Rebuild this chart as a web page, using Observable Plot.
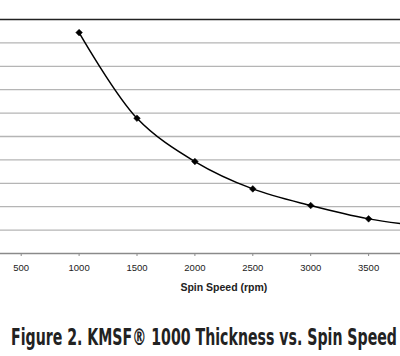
<!DOCTYPE html>
<html>
<head>
<meta charset="utf-8">
<script src="https://cdn.jsdelivr.net/npm/d3@7"></script>
<script src="https://cdn.jsdelivr.net/npm/@observablehq/plot@0.6"></script>
<style>
  body { margin: 0; background: #fff; width: 400px; overflow: hidden; }
  #chart svg { display: block; }
  #title { font-family: "DejaVu Sans Condensed", "DejaVu Sans", sans-serif; font-stretch: condensed; font-weight: bold; font-size: 22.5px; color: #222; white-space: nowrap; margin: 0; padding: 0; line-height: 25px; position: absolute; left: 11px; top: 325px; transform-origin: 0 50%; display: inline-block; }
</style>
</head>
<body>
<div id="chart"></div>
<div id="title">Figure 2. KMSF® 1000 Thickness vs. Spin Speed</div>
<script>
const speeds = [1000, 1500, 2000, 2500, 3000, 3500, 4000];
const thickness = [9.44, 5.78, 3.93, 2.76, 2.05, 1.48, 1.15];
const xTicks = [500, 1000, 1500, 2000, 2500, 3000, 3500];
const minorGrid = [1, 2, 3, 4, 5, 6, 7, 8, 9];
const xLabel = "Spin Speed (rpm)";

const data = speeds.map((s, i) => ({speed: s, thickness: thickness[i]}));

const plot = Plot.plot({
  width: 400,
  height: 300,
  marginTop: 19,
  marginBottom: 47,
  marginLeft: 0,
  marginRight: 0,
  style: {fontFamily: "'Liberation Sans', Arial, sans-serif", fontSize: "9.5px", color: "#222", background: "#fff"},
  x: {domain: [0, 4500], range: [-37.2, 483.9]},
  y: {domain: [0, 10], range: [253, 19], axis: null},
  marks: [
    Plot.ruleY(minorGrid, {stroke: "#b5b5b5", strokeWidth: 1.3}),
    Plot.ruleY([10], {stroke: "#222", strokeWidth: 1.5}),
    Plot.ruleY([0], {stroke: "#8a8a8a", strokeWidth: 1.3}),
    Plot.axisX({ticks: xTicks, tickSize: 3, tickPadding: 8, fontSize: 9.5, stroke: "#8a8a8a", fill: "#222", label: null, tickFormat: d => String(d)}),
    Plot.line(data, {x: "speed", y: "thickness", curve: "catmull-rom", stroke: "#000", strokeWidth: 1.5}),
    Plot.dot(data, {x: "speed", y: "thickness", symbol: "diamond2", r: 3, fill: "#000", stroke: "#000", strokeWidth: 0.5}),
    Plot.text([xLabel], {x: () => 2250, frameAnchor: "bottom", dy: 37, text: d => d, fontWeight: "bold", fontSize: 10.5, fill: "#222"})
  ]
});
document.getElementById("chart").appendChild(plot);
const t = document.getElementById("title");
const w = t.getBoundingClientRect().width;
const target = 386;
if (w > target) t.style.transform = `scaleX(${target / w})`;
</script>
</body>
</html>
